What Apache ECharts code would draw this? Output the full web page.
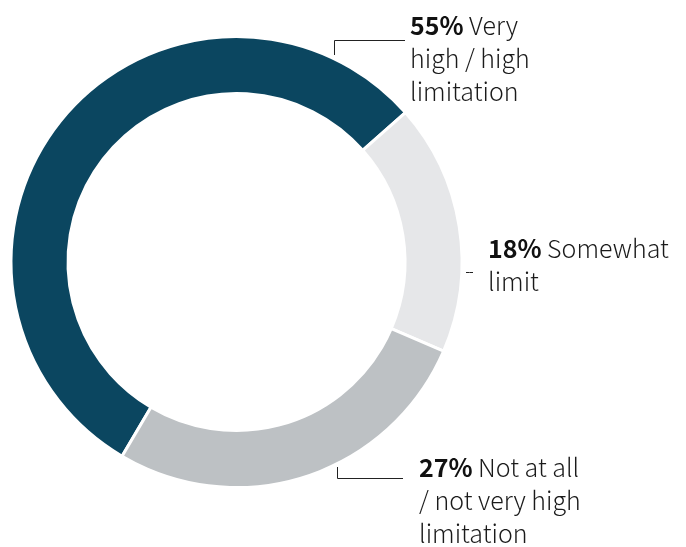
<!DOCTYPE html>
<html>
<head>
<meta charset="utf-8">
<script src="https://cdn.jsdelivr.net/npm/echarts@6/dist/echarts.min.js"></script>
<style>
  html, body { margin: 0; padding: 0; background: #fff; }
  #chart { width: 686px; height: 547px; }
</style>
</head>
<body>
<div id="chart"></div>
<script>
// Share of respondents by level of limitation
const categories = [
  'Very\nhigh / high\nlimitation',
  'Somewhat\nlimit',
  'Not at all\n/ not very high\nlimitation'
];
const shares = [55, 18, 27];
const colors = ['#0b4660', '#e6e7e9', '#bdc1c4'];

// Where each callout sits, and the shape of its leader line
const labelSpots = [
  { x: 410, y: 8.5, line: [[334.5, 55], [334.5, 40.5], [405, 40.5]] },
  { x: 488, y: 231.5, line: [[466, 272.5], [469.5, 272.5], [473, 272.5]] },
  { x: 419, y: 450.5, line: [[337.5, 467], [337.5, 478.5], [403, 478.5]] }
];

const FONT = '"Noto Sans CJK SC Light", "Noto Sans CJK SC", "Noto Sans", sans-serif';

const chart = echarts.init(document.getElementById('chart'));
chart.setOption({
  animation: false,
  backgroundColor: '#ffffff',
  series: [{
    type: 'pie',
    center: [236.5, 262],
    radius: [168.5, 225.5],
    startAngle: 239.5,
    clockwise: true,
    avoidLabelOverlap: false,
    itemStyle: { borderColor: '#ffffff', borderWidth: 3 },
    label: {
      show: true,
      position: 'outside',
      fontFamily: FONT,
      fontSize: 25,
      fontWeight: 300,
      lineHeight: 33,
      color: '#1a1a1a',
      formatter: p => '{v|' + p.value + '%} ' + p.name,
      rich: {
        v: { fontFamily: '"Noto Sans CJK SC", "Noto Sans", sans-serif', fontSize: 25, fontWeight: 'bold', lineHeight: 33, color: '#111111' }
      }
    },
    labelLine: {
      show: true,
      length: 10,
      length2: 10,
      smooth: false,
      lineStyle: { color: '#222222', width: 1 }
    },
    labelLayout: params => {
      const s = labelSpots[params.dataIndex];
      return {
        x: s.x,
        y: s.y,
        align: 'left',
        verticalAlign: 'top',
        labelLinePoints: s.line
      };
    },
    emphasis: { disabled: true },
    data: categories.map((name, i) => ({
      name: name,
      value: shares[i],
      itemStyle: { color: colors[i] }
    }))
  }]
});
</script>
</body>
</html>
